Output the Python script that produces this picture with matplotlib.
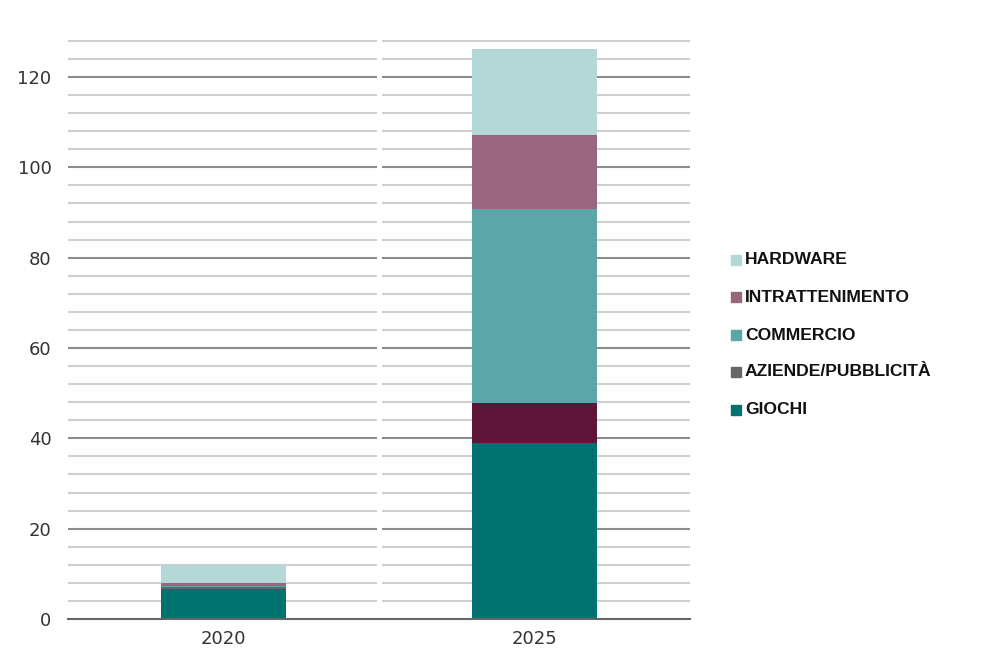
import numpy as np
import matplotlib.pyplot as plt

years = ['2020', '2025']
categories = ['GIOCHI', 'AZIENDE/PUBBLICITÀ', 'COMMERCIO', 'INTRATTENIMENTO', 'HARDWARE']
giochi = [6.6, 38.9]
aziende = [0.5, 8.9]
commercio = [0.2, 43.0]
intrattenimento = [0.7, 16.3]
hardware = [3.9, 19.0]
series = [giochi, aziende, commercio, intrattenimento, hardware]

colors = ['#007370', '#666666', '#5ba7a7', '#98677e', '#b4d8d8']
# in the 2025 bar the aziende block is drawn in maroon
bar_colors = [colors[:], colors[:]]
bar_colors[1][1] = '#5e1538'

fig = plt.figure(figsize=(10.03, 6.71), dpi=100)
ax = fig.add_axes([0.068, 0.0775, 0.62, 0.865])

x = np.arange(len(years))
ymax = 128.5

# gridlines, split in two halves with a small gap between categories
for v in np.arange(4, 129, 4):
    major = v % 20 == 0
    c = '#8c8c8c' if major else '#cfcfcf'
    for x0, x1 in [(-0.5, 0.493), (0.508, 1.5)]:
        ax.plot([x0, x1], [v, v], color=c, lw=1.5, zorder=0, solid_capstyle='butt')

bottom = np.zeros(len(years))
for i, vals in enumerate(series):
    ax.bar(x, vals, width=0.4, bottom=bottom,
           color=[bar_colors[j][i] for j in range(len(years))],
           edgecolor='none', zorder=2)
    bottom += np.array(vals)

ax.set_xlim(-0.5, 1.5)
ax.set_ylim(0, ymax)
ax.set_xticks(x)
ax.set_xticklabels(years)
ax.set_yticks(np.arange(0, 121, 20))
ax.tick_params(axis='both', length=0, labelsize=13, colors='#333333', pad=8)
ax.tick_params(axis='y', pad=12)
for s in ['top', 'right', 'left']:
    ax.spines[s].set_visible(False)
ax.spines['bottom'].set_color('#666666')
ax.spines['bottom'].set_linewidth(1.5)

# legend on the right, top to bottom
leg_font = ['Liberation Sans Narrow', 'Liberation Sans', 'DejaVu Sans']
rows = [260, 297, 335, 372, 410]
for k, idx in enumerate(range(len(categories) - 1, -1, -1)):
    yf = 1 - rows[k] / 671
    fig.patches.append(plt.Rectangle((731 / 1003, yf - 5 / 671), 10 / 1003, 10 / 671,
                                     transform=fig.transFigure, color=colors[idx]))
    fig.text(745 / 1003, yf, categories[idx], fontsize=12.6, fontweight='bold',
             family=leg_font, va='center', ha='left', color='#111111')

fig.savefig('out.png', dpi=100)
